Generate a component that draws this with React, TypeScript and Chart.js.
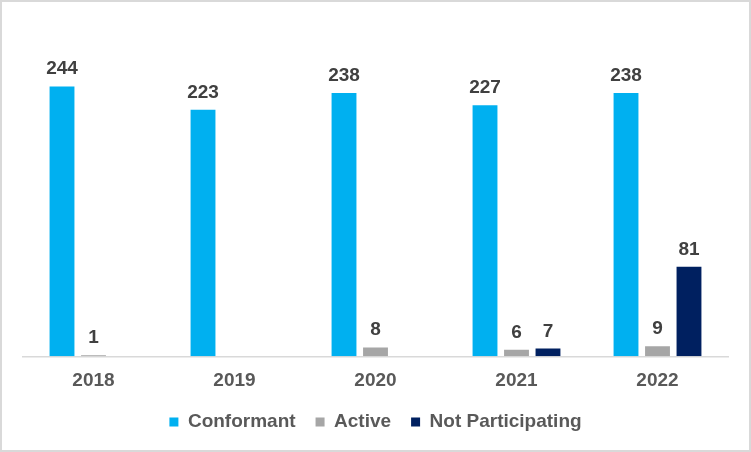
import React, { useEffect, useRef } from "react";
import { Chart, registerables } from "chart.js";

Chart.register(...registerables);

const categories = ["2018", "2019", "2020", "2021", "2022"];
const conformant = [244, 223, 238, 227, 238];
const active = [1, null, 8, 6, 9];
const notParticipating = [null, null, null, 7, 81];

const FONT = "'Liberation Sans', Arial, sans-serif";

const valueLabels = {
  id: "valueLabels",
  afterDatasetsDraw(chart: any) {
    const ctx = chart.ctx;
    ctx.save();
    ctx.font = `bold 19px ${FONT}`;
    ctx.fillStyle = "#404040";
    ctx.textAlign = "center";
    ctx.textBaseline = "alphabetic";
    chart.data.datasets.forEach((ds: any, i: number) => {
      const meta = chart.getDatasetMeta(i);
      meta.data.forEach((bar: any, j: number) => {
        const v = ds.data[j];
        if (v === null || v === undefined) return;
        ctx.fillText(String(v), bar.x, bar.y - 12);
      });
    });
    ctx.restore();
  },
};

export default function App() {
  const ref = useRef<HTMLCanvasElement | null>(null);
  useEffect(() => {
    document.body.style.margin = "0";
    const chart = new Chart(ref.current as HTMLCanvasElement, {
      type: "bar",
      data: {
        labels: categories,
        datasets: [
          { label: "Conformant", data: conformant, backgroundColor: "#00B0F0" },
          { label: "Active", data: active, backgroundColor: "#A6A6A6" },
          { label: "Not Participating", data: notParticipating, backgroundColor: "#002060" },
        ],
      },
      options: {
        responsive: false,
        animation: false,
        events: [],
        datasets: { bar: { categoryPercentage: 0.67, barPercentage: 0.79 } },
        layout: { padding: { top: 24.5, left: 23, right: 23, bottom: 10.5 } },
        scales: {
          x: {
            grid: { display: false, drawTicks: false },
            border: { display: true, color: "#D9D9D9", width: 1.5 },
            ticks: { color: "#595959", font: { family: FONT, size: 19, weight: "bold" }, padding: 12.7 },
            afterFit(scale: any) {
              scale.height -= 12;
            },
          },
          y: { display: false, min: 0, max: 300 },
        },
        plugins: {
          legend: {
            position: "bottom",
            labels: {
              boxWidth: 9,
              boxHeight: 9,
              padding: 20,
              color: "#595959",
              font: { family: FONT, size: 19, weight: "bold" },
            },
          },
          tooltip: { enabled: false },
        },
      } as any,
      plugins: [valueLabels],
    });
    return () => chart.destroy();
  }, []);
  return (
    <div style={{ position: "absolute", left: 0, top: 0, width: 751, height: 452, background: "#fff" }}>
      <canvas ref={ref} width={751} height={452} style={{ position: "absolute", left: 0, top: 0, width: 751, height: 452 }} />
      <div
        style={{
          position: "absolute",
          left: 0,
          top: 0,
          width: 751,
          height: 452,
          boxSizing: "border-box",
          border: "2px solid #D9D9D9",
          pointerEvents: "none",
        }}
      />
    </div>
  );
}
